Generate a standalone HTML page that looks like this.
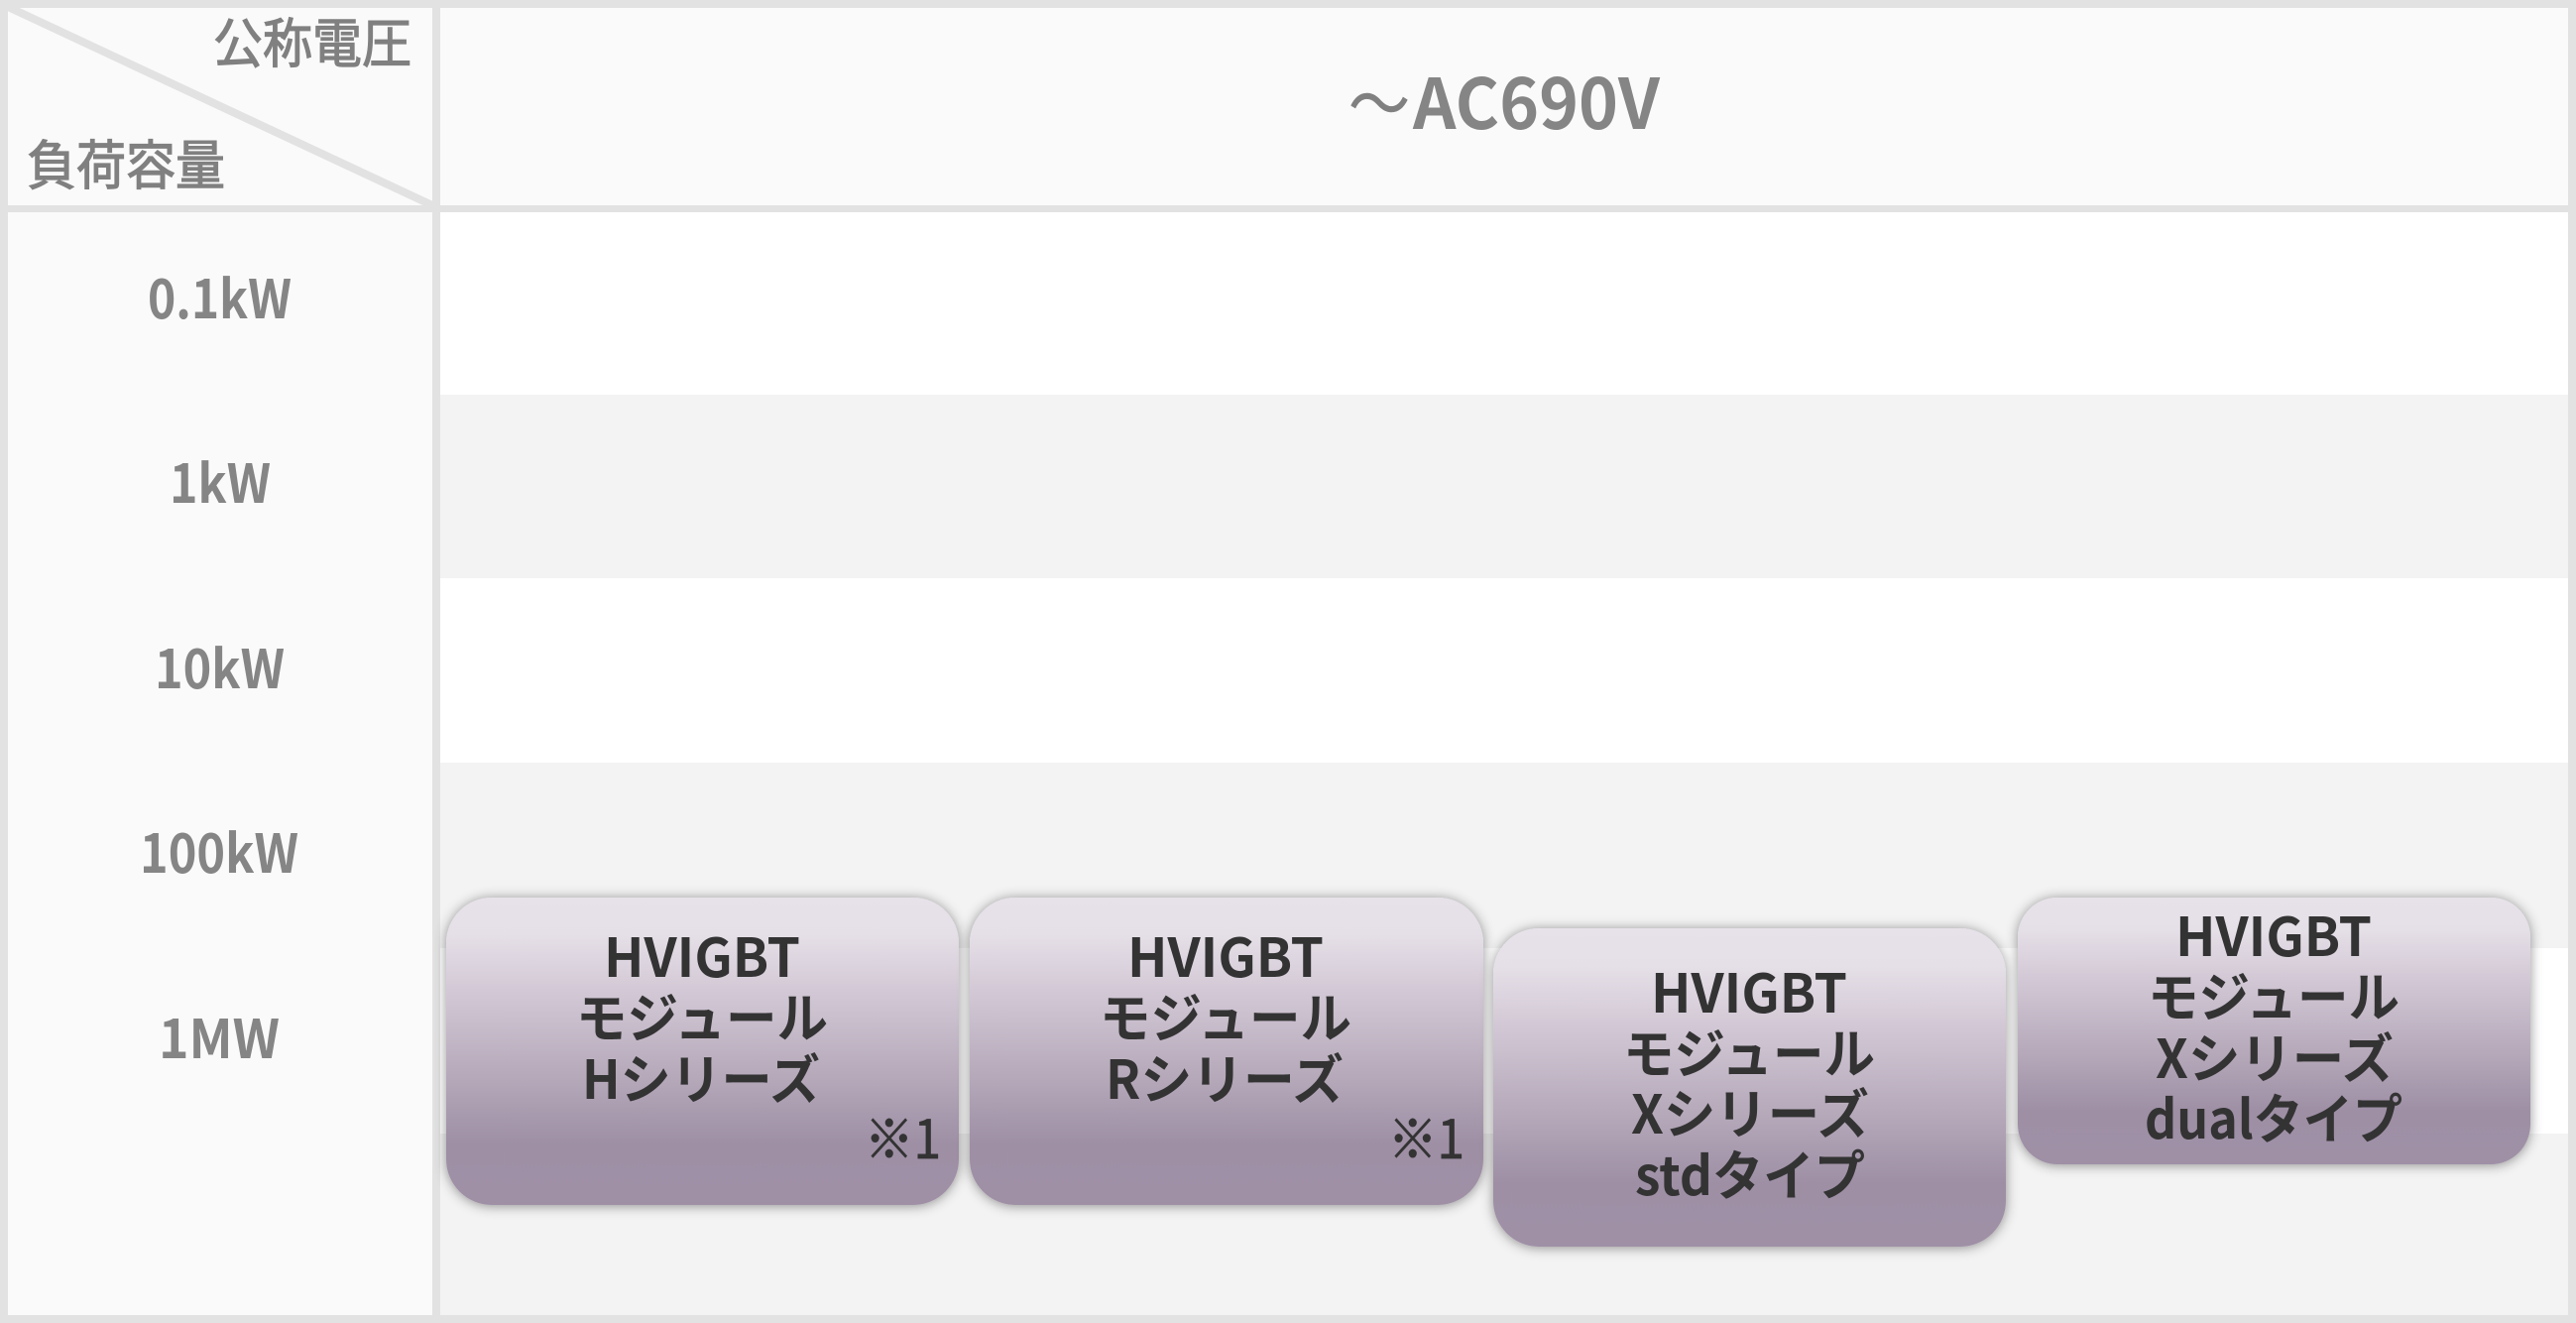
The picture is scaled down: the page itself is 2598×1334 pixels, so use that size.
<!DOCTYPE html>
<html lang="ja"><head><meta charset="utf-8"><style>
html,body{margin:0;padding:0;background:#fff}
svg{display:block}
text{font-family:"Liberation Sans","Noto Sans CJK JP",sans-serif}
.g{font-family:"Noto Sans CJK JP",sans-serif;font-weight:700;fill:#858585;font-size:54px}
.t{font-family:"Noto Sans CJK JP",sans-serif;font-weight:400;fill:#808080;font-size:54px;stroke:#808080;stroke-width:1.2px}
.b{font-family:"Noto Sans CJK JP",sans-serif;font-weight:700;fill:#333;font-size:54px}
.n{font-family:"Noto Sans CJK JP",sans-serif;font-weight:400;fill:#333;font-size:54px;stroke:#333;stroke-width:.8px}
</style></head><body>
<svg width="2598" height="1334" viewBox="0 0 2598 1334" xmlns="http://www.w3.org/2000/svg">
<defs>
<linearGradient id="p" x1="0" y1="0" x2="0" y2="1">
<stop offset="0" stop-color="#e7e1e9"/><stop offset=".12" stop-color="#e5dfe7"/><stop offset=".3" stop-color="#d3c9d6"/><stop offset=".55" stop-color="#b9adbd"/><stop offset=".8" stop-color="#9e8fa5"/><stop offset="1" stop-color="#9f90a6"/>
</linearGradient>
<filter id="s" x="-8%" y="-10%" width="116%" height="120%"><feDropShadow dx="0" dy="1" stdDeviation="6" flood-color="#000" flood-opacity=".42"/></filter>
</defs>
<rect width="2598" height="1334" fill="#fff"/>
<rect x="0" y="0" width="2598" height="210" fill="#fafafa"/>
<rect x="0" y="0" width="440" height="1334" fill="#fafafa"/>
<rect x="443" y="398" width="2155" height="185" fill="#f3f3f3"/>
<rect x="443" y="769" width="2155" height="187" fill="#f3f3f3"/>
<rect x="443" y="1143" width="2155" height="191" fill="#f3f3f3"/>
<g fill="#e2e2e2">
<rect x="0" y="0" width="2598" height="8"/>
<rect x="0" y="1326" width="2598" height="8"/>
<rect x="0" y="0" width="8" height="1334"/>
<rect x="2590" y="0" width="8" height="1334"/>
<rect x="436" y="0" width="8" height="1334"/>
<rect x="0" y="207" width="2598" height="7"/>
</g>
<line x1="4" y1="5" x2="438" y2="208" stroke="#e2e2e2" stroke-width="8"/>

<text class="t" x="215" y="63" textLength="200" lengthAdjust="spacingAndGlyphs">公称電圧</text>
<text class="t" x="27" y="186" textLength="200" lengthAdjust="spacingAndGlyphs">負荷容量</text>
<text class="t" style="font-size:70px;stroke-width:.5px" x="1360" y="130" textLength="62" lengthAdjust="spacingAndGlyphs">～</text>
<text class="g" style="font-size:70px" x="1425" y="130" textLength="249" lengthAdjust="spacingAndGlyphs">AC690V</text>

<text class="g" x="149" y="321" textLength="145" lengthAdjust="spacingAndGlyphs">0.1kW</text>
<text class="g" x="171" y="507" textLength="102" lengthAdjust="spacingAndGlyphs">1kW</text>
<text class="g" x="156" y="694" textLength="131" lengthAdjust="spacingAndGlyphs">10kW</text>
<text class="g" x="141" y="880" textLength="160" lengthAdjust="spacingAndGlyphs">100kW</text>
<text class="g" x="160" y="1067" textLength="122" lengthAdjust="spacingAndGlyphs">1MW</text>

<rect x="450" y="905" width="517" height="310" rx="46" ry="46" fill="url(#p)" filter="url(#s)"/>
<rect x="978" y="905" width="518" height="310" rx="46" ry="46" fill="url(#p)" filter="url(#s)"/>
<rect x="1506" y="936" width="517" height="321" rx="46" ry="46" fill="url(#p)" filter="url(#s)"/>
<rect x="2035" y="905" width="517" height="269" rx="40" ry="40" fill="url(#p)" filter="url(#s)"/>

<text class="b" x="609" y="985" textLength="198" lengthAdjust="spacingAndGlyphs">HVIGBT</text>
<text class="b" x="581" y="1046" textLength="254" lengthAdjust="spacingAndGlyphs">モジュール</text>
<text class="b" x="587" y="1108" textLength="240" lengthAdjust="spacingAndGlyphs">Hシリーズ</text>
<text class="n" x="872" y="1168" textLength="77" lengthAdjust="spacingAndGlyphs">※1</text>

<text class="b" x="1137" y="985" textLength="198" lengthAdjust="spacingAndGlyphs">HVIGBT</text>
<text class="b" x="1109" y="1046" textLength="254" lengthAdjust="spacingAndGlyphs">モジュール</text>
<text class="b" x="1115" y="1108" textLength="240" lengthAdjust="spacingAndGlyphs">Rシリーズ</text>
<text class="n" x="1400" y="1168" textLength="77" lengthAdjust="spacingAndGlyphs">※1</text>

<text class="b" x="1665" y="1021" textLength="198" lengthAdjust="spacingAndGlyphs">HVIGBT</text>
<text class="b" x="1637" y="1082" textLength="254" lengthAdjust="spacingAndGlyphs">モジュール</text>
<text class="b" x="1645" y="1143" textLength="240" lengthAdjust="spacingAndGlyphs">Xシリーズ</text>
<text class="b" x="1649" y="1205" textLength="232" lengthAdjust="spacingAndGlyphs">stdタイプ</text>

<text class="b" x="2194" y="964" textLength="198" lengthAdjust="spacingAndGlyphs">HVIGBT</text>
<text class="b" x="2166" y="1025" textLength="254" lengthAdjust="spacingAndGlyphs">モジュール</text>
<text class="b" x="2174" y="1087" textLength="240" lengthAdjust="spacingAndGlyphs">Xシリーズ</text>
<text class="b" x="2163" y="1148" textLength="260" lengthAdjust="spacingAndGlyphs">dualタイプ</text>
</svg>
</body></html>
